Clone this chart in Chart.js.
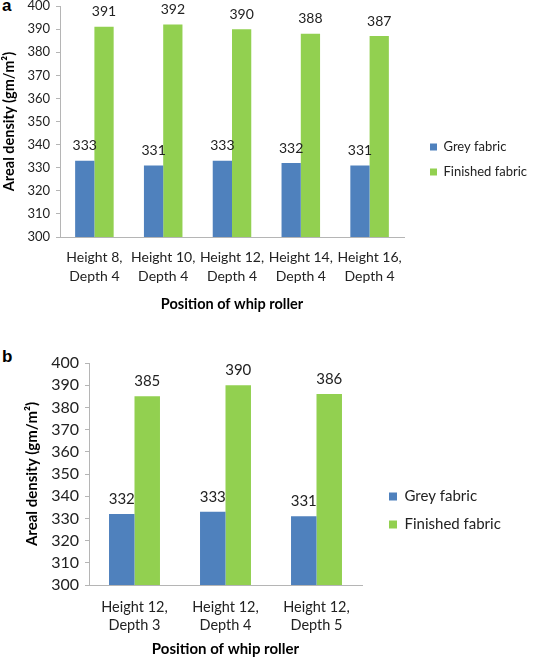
<!DOCTYPE html>
<html>
<head>
<meta charset="utf-8">
<script src="https://cdn.jsdelivr.net/npm/chart.js@4"></script>
<style>
  body { margin: 0; background: #fff; width: 540px; height: 659px; position: relative; overflow: hidden; }
  .panel { position: absolute; left: 0; width: 540px; }
  .tag { position: absolute; left: 2px; font: bold 17px "Liberation Sans", Arial, sans-serif; color: #000; }
</style>
</head>
<body>
<div class="tag" style="top:-4px">a</div>
<div class="panel" style="top:0;height:325px"><canvas id="chartA"></canvas></div>
<div class="tag" style="top:347px">b</div>
<div class="panel" style="top:330px;height:329px"><canvas id="chartB"></canvas></div>
<script>
// data - panel a
const labelsA = [["Height 8,", "Depth 4"], ["Height 10,", "Depth 4"], ["Height 12,", "Depth 4"], ["Height 14,", "Depth 4"], ["Height 16,", "Depth 4"]];
const greyA = [333, 331, 333, 332, 331];
const finishedA = [391, 392, 390, 388, 387];

// data - panel b
const labelsB = [["Height 12,", "Depth 3"], ["Height 12,", "Depth 4"], ["Height 12,", "Depth 5"]];
const greyB = [332, 333, 331];
const finishedB = [385, 390, 386];

const yTicks = [300, 310, 320, 330, 340, 350, 360, 370, 380, 390, 400];

const FONT = "Lato, 'Open Sans', sans-serif";
const BLUE = "#4f81bd";
const GREEN = "#92d050";

// value labels above bars
const valueLabels = {
  id: "valueLabels",
  afterDatasetsDraw(chart, args, opts) {
    const ctx = chart.ctx;
    ctx.save();
    ctx.font = `${opts.size}px ${FONT}`;
    ctx.fillStyle = "#222";
    ctx.textAlign = "center";
    ctx.textBaseline = "middle";
    chart.data.datasets.forEach((ds, i) => {
      chart.getDatasetMeta(i).data.forEach((bar, j) => {
        ctx.fillText(ds.data[j], bar.x, bar.y - 15);
      });
    });
    ctx.restore();
  },
};

// keep the legend column at a fixed width
const legendWidth = {
  id: "legendWidth",
  beforeLayout(chart, args, opts) {
    const lg = chart.legend;
    if (lg && !lg._fixed) {
      const fit = lg.fit.bind(lg);
      lg.fit = function () { fit(); this.width = opts.width; };
      lg._fixed = true;
    }
  },
};

function makeChart(id, labels, grey, finished, cfg) {
  return new Chart(document.getElementById(id), {
    type: "bar",
    data: {
      labels: labels,
      datasets: [
        { label: "Grey fabric", data: grey, backgroundColor: BLUE },
        { label: "Finished fabric", data: finished, backgroundColor: GREEN },
      ],
    },
    options: {
      responsive: true,
      maintainAspectRatio: false,
      animation: false,
      layout: { padding: cfg.padding },
      datasets: { bar: { barPercentage: 1, categoryPercentage: 0.56 } },
      plugins: {
        tooltip: { enabled: false },
        valueLabels: { size: cfg.valueSize },
        legendWidth: { width: cfg.legendW },
        legend: {
          position: "right",
          labels: {
            color: "#222",
            boxWidth: cfg.box,
            boxHeight: cfg.box,
            padding: cfg.legendPad,
            font: { family: FONT, size: cfg.legendSize },
          },
        },
      },
      scales: {
        x: {
          afterFit: (axis) => { axis.height = cfg.xHeight; },
          grid: { display: false, drawTicks: false },
          border: { display: true, color: "#b5b5b5", width: 1 },
          ticks: {
            color: "#222",
            padding: cfg.xPad,
            maxRotation: 0,
            autoSkip: false,
            font: { family: FONT, size: cfg.xTickSize, lineHeight: cfg.xLine },
          },
          title: {
            display: true,
            text: "Position of whip roller",
            color: "#000",
            padding: { top: 0, bottom: 0 },
            font: { family: FONT, size: cfg.titleSize, weight: "bold", lineHeight: 1.2 },
          },
        },
        y: {
          min: 300,
          max: 400,
          afterBuildTicks: (axis) => { axis.ticks = yTicks.map((v) => ({ value: v })); },
          afterFit: (axis) => { axis.width = cfg.yWidth; },
          grid: { drawOnChartArea: false, tickLength: 4, color: "#b5b5b5" },
          border: { display: true, color: "#b5b5b5", width: 1 },
          ticks: {
            color: "#222",
            padding: 6,
            autoSkip: false,
            // tiny line height so the top label does not push the plot down
            font: { family: FONT, size: cfg.yTickSize, lineHeight: 0.01 },
          },
          title: {
            display: true,
            text: "Areal density (gm/m²)",
            color: "#000",
            padding: { top: cfg.yTitlePad, bottom: 0 },
            font: { family: FONT, size: cfg.titleSize, weight: "bold", lineHeight: 1.2 },
          },
        },
        gap: {
          position: "right",
          display: true,
          afterFit: (axis) => { axis.width = cfg.gap; },
          grid: { display: false },
          border: { display: false },
          ticks: { display: false },
        },
      },
    },
    plugins: [valueLabels, legendWidth],
  });
}

makeChart("chartA", labelsA, greyA, finishedA, {
  padding: { top: 6, left: 0, right: 0, bottom: 12 },
  yWidth: 60, yTitlePad: 1, gap: 14, legendW: 122, legendPad: 12, box: 7,
  xHeight: 76, xPad: 11, xLine: 1.36,
  xTickSize: 14, yTickSize: 13, titleSize: 14.5, legendSize: 13, valueSize: 14,
});

makeChart("chartB", labelsB, greyB, finishedB, {
  padding: { top: 33, left: 22, right: 0, bottom: 1 },
  yWidth: 67, yTitlePad: 1, gap: 14, legendW: 164, legendPad: 13, box: 8,
  xHeight: 73, xPad: 13, xLine: 1.24,
  xTickSize: 14.5, yTickSize: 16, titleSize: 15, legendSize: 15, valueSize: 15,
});
</script>
</body>
</html>
